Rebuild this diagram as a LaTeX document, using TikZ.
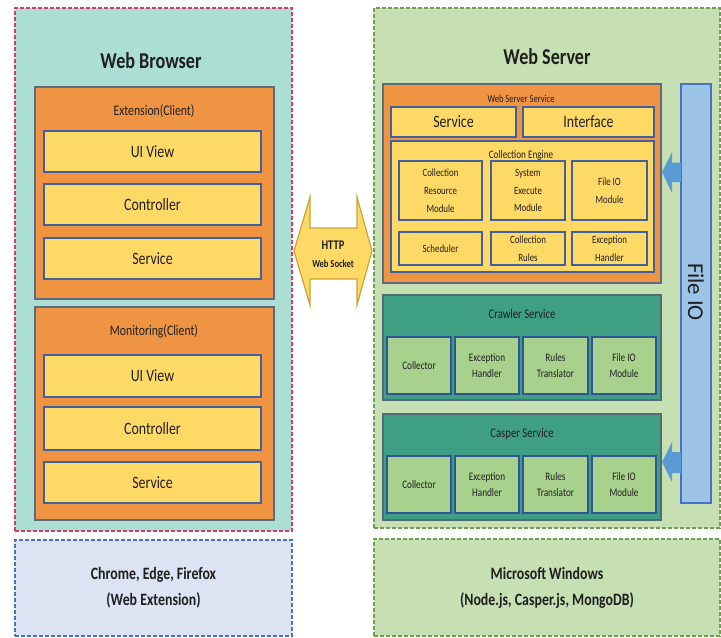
\documentclass[tikz,border=0pt]{standalone}
\usepackage{fontspec}
\setmainfont{Carlito}[FakeStretch=0.8]
\newfontfamily\plainfont{Carlito}
\usetikzlibrary{calc}
\definecolor{tealbg}{HTML}{ACDED3}
\definecolor{pinkd}{HTML}{D63A6E}
\definecolor{orangec}{HTML}{EF9443}
\definecolor{orangeb}{HTML}{5E6A80}
\definecolor{yellowc}{HTML}{FFD966}
\definecolor{yellowb}{HTML}{41609E}
\definecolor{lavc}{HTML}{DCE3F2}
\definecolor{lavb}{HTML}{4A72C0}
\definecolor{greenbg}{HTML}{C6E0B4}
\definecolor{greenb}{HTML}{6E9E4E}
\definecolor{tealsv}{HTML}{3E9F85}
\definecolor{tealsb}{HTML}{4E6E74}
\definecolor{greenin}{HTML}{A9D18E}
\definecolor{greeninb}{HTML}{2F5597}
\definecolor{fioc}{HTML}{9DC3E6}
\definecolor{fiob}{HTML}{4472C4}
\definecolor{bluearr}{HTML}{5B9BD5}
\definecolor{httpb}{HTML}{C9A43A}
\definecolor{txt}{HTML}{1F1F1F}
\newcommand\fs[2]{\fontsize{#1}{#2}\selectfont}
\newcommand\mkbox[7]{\node[#2, anchor=north west, minimum width={(#5-#3)*0.75pt}, minimum height={(#6-#4)*0.75pt}] (#1) at (#3,#4) {#7};}
\tikzset{
  outerL/.style={fill=tealbg, draw=pinkd, dash pattern=on 3pt off 1.5pt, line width=0.9pt},
  outerB/.style={fill=lavc, draw=lavb, dash pattern=on 3pt off 1.5pt, line width=0.9pt, align=center, font=\bfseries\fs{13}{19.5}},
  outerR/.style={fill=greenbg, draw=greenb, dash pattern=on 3pt off 1.5pt, line width=0.9pt, align=center, font=\bfseries\fs{13}{19.5}},
  orangebox/.style={fill=orangec, draw=orangeb, line width=1.1pt},
  ybox/.style={fill=yellowc, draw=yellowb, line width=1.2pt, font=\fs{13}{15}},
  ysmall/.style={fill=yellowc, draw=yellowb, line width=1.2pt, align=center, font=\fs{8.3}{13.3}},
  tealbox/.style={fill=tealsv, draw=tealsb, line width=1.1pt},
  gbox/.style={fill=greenin, draw=greeninb, line width=1.2pt, align=center, font=\fs{8.6}{12}},
  fiobox/.style={fill=fioc, draw=fiob, line width=1.1pt},
  bigtitle/.style={font=\bfseries\fs{17}{20}},
  midtitle/.style={font=\fs{11}{13}},
  blockarrow/.style={fill=bluearr, draw=none},
  httparrow/.style={fill=yellowc, draw=httpb, line width=0.9pt}
}
\begin{document}
\begin{tikzpicture}[x=0.75pt, y=-0.75pt, every node/.style={inner sep=0pt, outer sep=0pt, text=txt}]
\useasboundingbox (0,0) rectangle (721,637);
% ---------- left side ----------
\mkbox{wb}{outerL}{15}{8}{292}{531}{}
\node[bigtitle] (wbtitle) at (151,61) {Web Browser};
\mkbox{ext}{orangebox}{35}{87}{274}{299}{}
\node[midtitle] (exttitle) at (154,111) {Extension(Client)};
\mkbox{e1}{ybox}{44}{131}{261}{172}{UI View}
\mkbox{e2}{ybox}{44}{184}{261}{225}{Controller}
\mkbox{e3}{ybox}{44}{238}{261}{279}{Service}
\mkbox{mon}{orangebox}{35}{307}{274}{520}{}
\node[midtitle] (montitle) at (154,331) {Monitoring(Client)};
\mkbox{m1}{ybox}{44}{355}{261}{397}{UI View}
\mkbox{m2}{ybox}{44}{407}{261}{450}{Controller}
\mkbox{m3}{ybox}{44}{462}{261}{503}{Service}
\mkbox{chrome}{outerB}{15}{540}{292}{636}{Chrome, Edge, Firefox\\(Web Extension)}
% ---------- right side ----------
\mkbox{ws}{outerR}{374}{8}{720}{528}{}
\node[bigtitle] (wstitle) at (547,57) {Web Server};
\mkbox{wss}{orangebox}{383}{84}{661}{283}{}
\node[font=\fs{8}{10}] (wsstitle) at (521,99) {Web Server Service};
\mkbox{svc}{ybox}{391}{107}{516}{137}{Service}
\mkbox{ifc}{ybox}{523}{107}{654}{137}{Interface}
\mkbox{ce}{ysmall}{391}{141}{654}{272}{}
\node[font=\fs{8.6}{10}] (cetitle) at (521,155) {Collection Engine};
\mkbox{c1}{ysmall}{399}{161}{482}{220}{Collection\\Resource\\Module}
\mkbox{c2}{ysmall}{491}{161}{565}{220}{System\\Execute\\Module}
\mkbox{c3}{ysmall}{572}{161}{647}{220}{File IO\\Module}
\mkbox{c4}{ysmall}{399}{232}{482}{265}{Scheduler}
\mkbox{c5}{ysmall}{491}{232}{565}{265}{Collection\\Rules}
\mkbox{c6}{ysmall}{572}{232}{647}{265}{Exception\\Handler}
\mkbox{fio}{fiobox}{681}{84}{711}{503}{}
\node[rotate=-90, font=\plainfont\fs{17}{20}] (fiotext) at (696,292) {File IO};
\mkbox{crawl}{tealbox}{383}{295}{661}{400}{}
\node[font=\fs{10}{12}] (crawltitle) at (522,314) {Crawler Service};
\mkbox{cr1}{gbox}{387}{337}{451}{394}{Collector}
\mkbox{cr2}{gbox}{455}{337}{519}{394}{Exception\\Handler}
\mkbox{cr3}{gbox}{523}{337}{588}{394}{Rules\\Translator}
\mkbox{cr4}{gbox}{592}{337}{656}{394}{File IO\\Module}
\mkbox{casp}{tealbox}{383}{414}{661}{520}{}
\node[font=\fs{10}{12}] (casptitle) at (522,434) {Casper Service};
\mkbox{ca1}{gbox}{387}{456}{451}{513}{Collector}
\mkbox{ca2}{gbox}{455}{456}{519}{513}{Exception\\Handler}
\mkbox{ca3}{gbox}{523}{456}{588}{513}{Rules\\Translator}
\mkbox{ca4}{gbox}{592}{456}{656}{513}{File IO\\Module}
\mkbox{win}{outerR}{374}{539}{720}{636}{Microsoft Windows\\(Node.js, Casper.js, MongoDB)}
% ---------- blue block arrows from File IO ----------
\coordinate (a1) at (fio.west |- 0,172);
\fill[blockarrow] ($(a1)+(0,-9.5)$) -- ($(a1)+(-9,-9.5)$) -- ($(a1)+(-9,-20)$) -- ($(a1)+(-19,0)$)
  -- ($(a1)+(-9,21)$) -- ($(a1)+(-9,10)$) -- ($(a1)+(0,10)$) -- cycle;
\coordinate (a2) at (fio.west |- 0,462);
\fill[blockarrow] ($(a2)+(0,-10)$) -- ($(a2)+(-9,-10)$) -- ($(a2)+(-9,-20)$) -- ($(a2)+(-19,0)$)
  -- ($(a2)+(-9,20)$) -- ($(a2)+(-9,11)$) -- ($(a2)+(0,11)$) -- cycle;
% ---------- HTTP double arrow ----------
\coordinate (hc) at (333,251);
\draw[httparrow] ($(hc)+(-39,0)$) -- ($(hc)+(-23,-54)$) -- ($(hc)+(-23,-23)$) -- ($(hc)+(24,-23)$)
  -- ($(hc)+(24,-54)$) -- ($(hc)+(39,0)$) -- ($(hc)+(24,54)$) -- ($(hc)+(24,28)$)
  -- ($(hc)+(-23,28)$) -- ($(hc)+(-23,54)$) -- cycle;
\node[font=\bfseries\fs{9.9}{12}] (http) at (333,245) {HTTP};
\node[font=\bfseries\fs{8}{10}] (wsock) at (333,264) {Web Socket};
\end{tikzpicture}
\end{document}
